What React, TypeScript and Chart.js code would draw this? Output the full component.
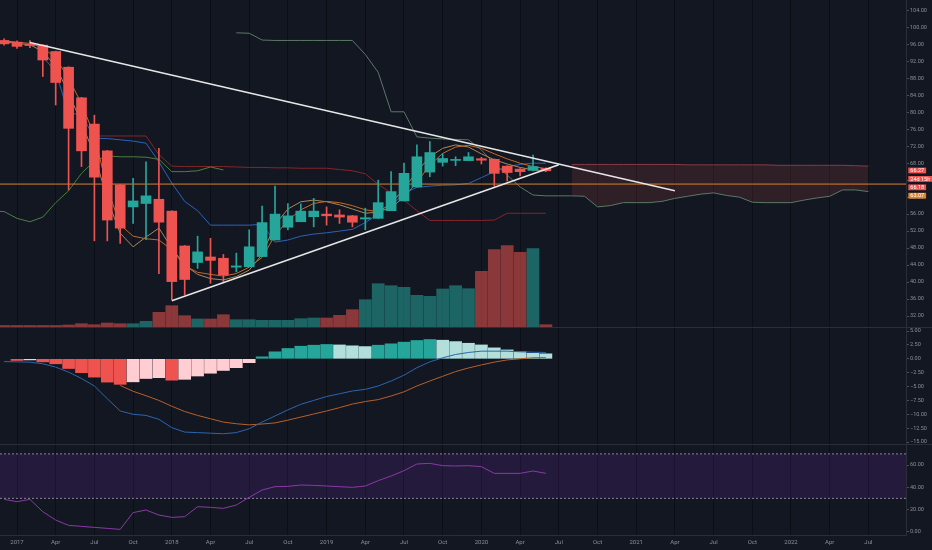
import React, { useEffect, useRef } from "react";
import { Chart, registerables } from "chart.js";

Chart.register(...registerables);

// ---------- layout constants ----------
const W = 932;
const AXIS_W = 26;
const X_MIN = -1.318; // month index at left edge (0 = Jan 2017)
const X_MAX = 68.915; // month index at right edge of plot
const BG = "#131722";
const SEP = "#2a2e39";
const GRID = "rgba(0,0,0,0.38)";
const TEXT = "#8b8e98";
const FONT = "Roboto, 'Liberation Sans', sans-serif";
const UP = "#26a69a";
const DOWN = "#ef5350";

// ---------- data (monthly Heikin-Ashi candles, Dec 2016 .. Jun 2020) ----------
const FIRST_MONTH = -1; // Dec 2016
const candleOpen = [96.9, 96.5, 96.0, 95.8, 94.3, 90.6, 83.4, 77.2, 70.9, 62.9, 57.7, 58.5, 59.5, 56.7, 48.5, 44.6, 45.9, 45.6, 43.5, 43.6, 46.0, 49.9, 52.9, 54.2, 55.4, 56.0, 55.8, 55.6, 54.85, 55.0, 56.8, 59.1, 62.4, 65.9, 68.2, 68.65, 68.6, 69.05, 68.9, 67.3, 66.6, 66.3, 66.8];
const candleHigh = [97.3, 96.8, 96.9, 95.9, 94.4, 90.7, 83.5, 79.3, 71.0, 63.0, 64.4, 68.3, 71.5, 56.8, 48.6, 50.8, 50.3, 46.5, 46.8, 52.3, 57.9, 62.6, 58.5, 58.4, 59.7, 57.7, 57.0, 55.7, 57.4, 64.0, 66.0, 68.0, 72.3, 73.1, 70.2, 69.5, 70.5, 69.4, 69.0, 67.4, 66.7, 69.9, 66.9];
const candleLow = [95.8, 95.0, 95.2, 88.4, 81.7, 61.7, 67.2, 49.7, 49.7, 49.1, 53.8, 50.0, 42.0, 35.8, 37.0, 43.2, 39.7, 40.1, 42.4, 43.6, 46.0, 49.9, 52.3, 54.2, 53.0, 53.4, 53.8, 53.0, 52.3, 55.0, 56.8, 59.1, 62.4, 64.8, 67.3, 67.4, 68.6, 67.8, 62.6, 63.8, 65.0, 66.2, 66.0];
const candleClose = [96.1, 95.5, 95.7, 92.3, 87.0, 76.2, 70.9, 64.7, 54.6, 52.7, 59.1, 60.3, 54.1, 40.1, 40.6, 47.1, 45.1, 41.7, 43.8, 48.3, 54.0, 56.0, 55.6, 56.7, 56.7, 55.6, 55.3, 54.1, 55.15, 58.7, 61.3, 65.6, 69.5, 70.5, 69.1, 68.7, 69.5, 68.7, 65.6, 65.8, 66.0, 67.2, 66.2];
const volume = [15, 15, 15, 15, 15, 20, 33, 23, 40, 33, 33, 57, 147, 213, 113, 80, 80, 123, 73, 73, 67, 67, 67, 83, 90, 90, 117, 173, 273, 433, 413, 397, 317, 307, 380, 413, 383, 557, 773, 813, 747, 783, 23];

// Ichimoku-style lines
const TENKAN_START = 2;
const tenkan = [93.0, 89.6, 79.6, 79.6, 73.8, 73.8, 73.5, 73.2, 72.7, 68.3, 63.3, 59.0, 56.8, 53.4, 53.4, 53.4, 53.4, 53.6, 49.4, 49.9, 50.8, 51.3, 51.6, 52.0, 52.4, 54.0, 56.0, 58.1, 60.9, 62.3, 62.6, 62.8, 62.9, 63.2, 64.6, 66.0, 67.2, 67.7, 68.0, 68.0];
const KIJUN_START = 6;
const kijun = [74.4, 74.4, 74.4, 74.4, 74.4, 70.0, 67.3, 67.2, 67.2, 67.2, 67.2, 67.1, 67.0, 67.0, 66.9, 66.9, 66.8, 66.8, 66.8, 66.5, 66.2, 65.5, 63.0, 61.0, 59.3, 56.8, 54.5, 54.5, 54.5, 54.5, 54.5, 54.6, 56.2, 56.2, 56.2, 56.2];
const LAGGING_START = -2;
const lagging = [56.7, 56.6, 55.0, 54.2, 55.3, 58.7, 61.5, 65.6, 68.5, 69.7, 69.5, 69.5, 69.4, 68.9, 66.0, 66.0, 66.2, 67.1, 66.4];
const SPAN_A_START = 17;
const spanA = [98.7, 98.6, 97.0, 96.9, 96.9, 96.9, 96.9, 96.9, 96.9, 96.9, 93.6, 89.4, 80.1, 80.1, 74.2, 73.9, 73.7, 73.6, 73.5, 71.1, 67.9, 65.2, 62.4, 60.5, 60.3, 60.3, 60.3, 60.2, 57.7, 58.0, 58.7, 58.7, 58.7, 59.0, 59.7, 60.2, 60.7, 61.0, 60.4, 60.0, 58.8, 58.7, 58.7, 58.7, 59.3, 59.8, 60.2, 61.7, 61.7, 61.3];
const SPAN_B_START = 43;
const spanB = [67.7, 67.7, 67.7, 67.7, 67.7, 67.7, 67.7, 67.7, 67.7, 67.6, 67.6, 67.6, 67.6, 67.6, 67.6, 67.6, 67.5, 67.5, 67.5, 67.5, 67.5, 67.5, 67.4, 67.3];

// short moving averages (start Dec 2016)
const maFast = [96.6, 96.2, 95.9, 94.3, 90.8, 84.5, 77.5, 70.0, 59.5, 51.5, 48.3, 50.6, 52.7, 48.0, 44.0, 41.8, 40.8, 40.5, 41.3, 42.8, 46.5, 53.5, 57.2, 58.9, 59.3, 58.9, 58.2, 57.2, 56.2, 56.5, 58.5, 62.0, 66.0, 69.5, 71.5, 72.3, 71.8, 70.2, 68.8, 67.8, 67.0, 66.4, 66.2];
const maSlow = [96.8, 96.5, 96.2, 95.2, 92.8, 88.0, 82.0, 74.5, 62.0, 53.5, 50.8, 50.2, 49.9, 47.6, 43.8, 42.3, 41.8, 41.4, 42.0, 43.5, 45.8, 51.0, 54.5, 57.0, 58.5, 59.0, 58.7, 58.0, 57.0, 56.6, 57.5, 60.0, 63.5, 67.5, 70.3, 71.8, 72.2, 71.5, 70.2, 69.0, 68.0, 67.2, 66.7];

const priceLevel = 63.07;
const topTrend = [
  { x: 1, y: 96.4 },
  { x: 51, y: 61.5 },
];
const bottomTrend = [
  { x: 12, y: 35.6 },
  { x: 42, y: 67.6 },
];
const priceTags = ["66.27", "24d 15h", "66.18", "63.07"];
const priceTagColors = [DOWN, DOWN, DOWN, "#e0842a"];
const tagAnchorValue = 66.27;

// MACD
const MACD_START = -1;
const macdLine = [-0.5, -0.55, -0.6, -0.9, -1.5, -2.4, -3.55, -4.9, -7.2, -9.4, -10.0, -10.2, -10.9, -12.4, -13.2, -13.3, -13.4, -13.5, -13.3, -12.6, -11.4, -10.3, -9.2, -8.2, -7.5, -6.8, -6.3, -5.8, -5.5, -4.9, -4.0, -2.95, -1.6, -0.55, 0.18, 0.78, 1.14, 1.38, 1.38, 1.38, 1.26, 1.2, 1.14];
const SIGNAL_START = 8;
const signalLine = [-4.8, -5.85, -6.65, -7.5, -8.55, -9.5, -10.2, -10.8, -11.4, -11.7, -11.9, -11.75, -11.55, -11.05, -10.5, -9.95, -9.4, -8.8, -8.15, -7.7, -7.35, -6.7, -5.95, -4.9, -4.0, -3.15, -2.3, -1.65, -1.1, -0.6, -0.2, 0.0, 0.2, 0.25];
const HIST_START = 0;
const macdHist = [-0.3, -0.2, -0.55, -0.9, -1.75, -2.5, -3.3, -4.2, -4.6, -4.15, -3.55, -3.4, -3.85, -3.7, -3.1, -2.6, -2.1, -1.6, -0.7, 0.36, 1.26, 1.86, 2.27, 2.45, 2.58, 2.5, 2.34, 2.2, 2.45, 2.7, 3.0, 3.3, 3.47, 3.35, 3.1, 2.8, 2.5, 1.97, 1.6, 1.26, 1.0, 0.9];

// RSI
const RSI_START = -1;
const rsi = [29.1, 27.0, 29.1, 18.0, 10.5, 5.7, 4.8, 3.9, 3.0, 2.1, 17.2, 19.5, 15.0, 12.9, 13.5, 22.5, 21.9, 21.0, 24.0, 30.9, 37.5, 40.5, 40.8, 42.0, 41.7, 41.1, 40.5, 39.9, 41.1, 45.9, 50.1, 54.9, 60.9, 61.5, 59.4, 59.1, 59.4, 58.5, 52.5, 52.5, 52.5, 54.6, 52.5];
const rsiUpper = 70;
const rsiLower = 30;

// axes
const tickMonths = [0, 3, 6, 9, 12, 15, 18, 21, 24, 27, 30, 33, 36, 39, 42, 45, 48, 51, 54, 57, 60, 63, 66];
const tickLabels = ["2017", "Apr", "Jul", "Oct", "2018", "Apr", "Jul", "Oct", "2019", "Apr", "Jul", "Oct", "2020", "Apr", "Jul", "Oct", "2021", "Apr", "Jul", "Oct", "2022", "Apr", "Jul"];
const priceTicks = [32, 36, 40, 44, 48, 52, 56, 60, 64, 68, 72, 76, 80, 84, 88, 92, 96, 100, 104];
const macdTicks = [5, 2.5, 0, -2.5, -5, -7.5, -10, -12.5, -15];
const rsiTicks = [0, 20, 40, 60];

// ---------- helpers ----------
const pts = (values: number[], start: number) => values.map((y, k) => ({ x: start + k, y }));
const fmt = (v: number) => Number(v).toFixed(2).replace("-", "\u2212");

const line = (data: any[], color: string, extra: any = {}) => ({
  type: "line",
  data,
  borderColor: color,
  borderWidth: 1,
  pointRadius: 0,
  pointHoverRadius: 0,
  tension: 0,
  fill: false,
  ...extra,
});

const xScale = (showLabels: boolean) => ({
  type: "linear",
  min: X_MIN,
  max: X_MAX,
  offset: false,
  afterBuildTicks: (s: any) => {
    s.ticks = tickMonths.map((v) => ({ value: v }));
  },
  afterFit: (s: any) => {
    s.height = showLabels ? 15 : 0;
    s.paddingLeft = 0;
    s.paddingRight = 0;
  },
  grid: { display: true, offset: false, color: GRID, lineWidth: 1, drawTicks: false },
  border: { display: showLabels, color: SEP },
  ticks: {
    display: showLabels,
    autoSkip: false,
    maxRotation: 0,
    padding: 4,
    color: TEXT,
    font: { family: FONT, size: 6 },
    callback: (v: any) => tickLabels[tickMonths.indexOf(Number(v))] ?? "",
  },
});

const yScale = (min: number, max: number, ticks: number[]) => ({
  type: "linear",
  position: "right",
  min,
  max,
  afterBuildTicks: (s: any) => {
    s.ticks = ticks.map((v) => ({ value: v }));
  },
  afterFit: (s: any) => {
    s.width = AXIS_W;
    s.paddingTop = 0;
    s.paddingBottom = 0;
  },
  grid: { drawOnChartArea: false, drawTicks: true, tickLength: 3, color: "#4a4e5a" },
  border: { display: true, color: SEP },
  ticks: {
    padding: 1,
    color: TEXT,
    autoSkip: false,
    font: { family: FONT, size: 5.5 },
    callback: (v: any) => fmt(v),
  },
});

const baseOptions = (scales: any) => ({
  responsive: false,
  animation: false,
  events: [],
  layout: { padding: 0 },
  plugins: { legend: { display: false }, tooltip: { enabled: false } },
  scales,
});

const tagPlugin = {
  id: "priceTags",
  afterDraw(chart: any) {
    const { ctx } = chart;
    const ys = chart.scales.y;
    const y0 = ys.getPixelForValue(tagAnchorValue);
    ctx.save();
    ctx.font = `5.5px ${FONT}`;
    ctx.textBaseline = "middle";
    priceTags.forEach((text, k) => {
      const cy = y0 + k * 8.4;
      const w = ctx.measureText(text).width + 4;
      ctx.fillStyle = priceTagColors[k];
      ctx.fillRect(ys.left + 2.3, cy - 2.9, w, 5.8);
      ctx.fillStyle = "#ffffff";
      ctx.fillText(text, ys.left + 4.3, cy + 0.3);
    });
    ctx.restore();
  },
};

function mainConfig(): any {
  const candleColors = candleOpen.map((o, k) => (candleClose[k] >= o ? UP : DOWN));
  const volColors = candleOpen.map((o, k) => (candleClose[k] >= o ? "rgba(38,166,154,0.55)" : "rgba(239,83,80,0.55)"));
  const bodies = candleOpen.map((o, k) => ({ x: FIRST_MONTH + k, y: [o, candleClose[k]] }));
  const wicks = candleLow.map((l, k) => ({ x: FIRST_MONTH + k, y: [l, candleHigh[k]] }));
  const spanAAll = pts(spanA, SPAN_A_START);
  const spanAEdge = spanAAll.filter((p) => p.x >= SPAN_B_START);
  return {
    type: "line",
    data: {
      datasets: [
        {
          type: "bar",
          data: pts(volume, FIRST_MONTH),
          yAxisID: "vol",
          backgroundColor: volColors,
          barThickness: 12,
          grouped: false,
          order: 20,
        },
        line(spanAEdge, "transparent", { borderWidth: 0, order: 15 }),
        line(pts(spanB, SPAN_B_START), "#8a3a46", {
          fill: "-1",
          backgroundColor: "rgba(239,83,80,0.13)",
          order: 14,
        }),
        line(spanAAll, "#5b7866", { order: 13 }),
        line(pts(lagging, LAGGING_START), "#4a7f3f", { order: 12 }),
        line(pts(kijun, KIJUN_START), "#85252b", { order: 12 }),
        line(pts(tenkan, TENKAN_START), "#2c63b8", { order: 12 }),
        line(pts(maSlow, FIRST_MONTH), "#c46a28", { order: 11 }),
        line(pts(maFast, FIRST_MONTH), "#a8895a", { order: 11 }),
        line(
          [
            { x: X_MIN, y: priceLevel },
            { x: X_MAX, y: priceLevel },
          ],
          "#d9822b",
          { order: 10 }
        ),
        {
          type: "bar",
          data: wicks,
          backgroundColor: candleColors,
          barThickness: 1,
          grouped: false,
          order: 5,
        },
        {
          type: "bar",
          data: bodies,
          backgroundColor: candleColors,
          barThickness: 10,
          minBarLength: 1,
          grouped: false,
          order: 4,
        },
        line(topTrend, "#e6e6e6", { borderWidth: 1.6, order: 1 }),
        line(bottomTrend, "#e6e6e6", { borderWidth: 1.6, order: 1 }),
      ],
    },
    options: baseOptions({
      x: xScale(false),
      y: yScale(29.41, 106.43, priceTicks),
      vol: { type: "linear", display: false, min: 0, max: 3270 },
    }),
    plugins: [tagPlugin],
  };
}

function macdConfig(): any {
  const histColors = macdHist.map((v, k) => {
    const prev = k > 0 ? macdHist[k - 1] : 0;
    if (v >= 0) return v >= prev ? "#26a69a" : "#b2dfdb";
    return v <= prev ? "#ef5350" : "#ffcdd2";
  });
  return {
    type: "line",
    data: {
      datasets: [
        {
          type: "bar",
          data: pts(macdHist, HIST_START),
          backgroundColor: histColors,
          barThickness: 12,
          grouped: false,
          order: 5,
        },
        line(pts(signalLine, SIGNAL_START), "#b8602a", { order: 2 }),
        line(pts(macdLine, MACD_START), "#2a66b0", { order: 1 }),
      ],
    },
    options: baseOptions({
      x: xScale(false),
      y: yScale(-15.35, 5.55, macdTicks),
    }),
  };
}

function rsiConfig(): any {
  return {
    type: "line",
    data: {
      datasets: [
        line(
          [
            { x: X_MIN, y: rsiUpper },
            { x: X_MAX, y: rsiUpper },
          ],
          "rgba(185,180,205,0.7)",
          { borderDash: [2, 2], fill: { value: rsiLower }, backgroundColor: "rgba(120,40,190,0.17)", order: 5 }
        ),
        line(
          [
            { x: X_MIN, y: rsiLower },
            { x: X_MAX, y: rsiLower },
          ],
          "rgba(185,180,205,0.7)",
          { borderDash: [2, 2], order: 4 }
        ),
        line(pts(rsi, RSI_START), "#8a3aa5", { order: 1 }),
      ],
    },
    options: baseOptions({
      x: xScale(true),
      y: yScale(-2.97, 78.0, rsiTicks),
    }),
  };
}

export default function App() {
  const mainRef = useRef<HTMLCanvasElement>(null);
  const macdRef = useRef<HTMLCanvasElement>(null);
  const rsiRef = useRef<HTMLCanvasElement>(null);

  useEffect(() => {
    document.body.style.margin = "0";
    document.body.style.background = BG;
    Chart.defaults.font.family = FONT;
    const charts = [
      new Chart(mainRef.current as HTMLCanvasElement, mainConfig()),
      new Chart(macdRef.current as HTMLCanvasElement, macdConfig()),
      new Chart(rsiRef.current as HTMLCanvasElement, rsiConfig()),
    ];
    return () => charts.forEach((c) => c.destroy());
  }, []);

  return (
    <div style={{ position: "absolute", left: 0, top: 0, width: W, height: 550, background: BG, overflow: "hidden" }}>
      <canvas ref={mainRef} width={W} height={327} style={{ position: "absolute", left: 0, top: 0, display: "block" }} />
      <div style={{ position: "absolute", left: 0, top: 327, width: W, height: 1, background: SEP }} />
      <canvas ref={macdRef} width={W} height={116} style={{ position: "absolute", left: 0, top: 328, display: "block" }} />
      <div style={{ position: "absolute", left: 0, top: 444, width: W, height: 1, background: SEP }} />
      <canvas ref={rsiRef} width={W} height={105} style={{ position: "absolute", left: 0, top: 445, display: "block" }} />
    </div>
  );
}
